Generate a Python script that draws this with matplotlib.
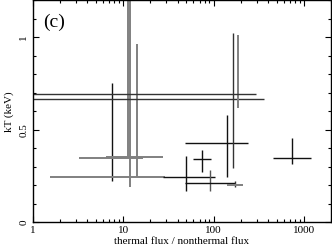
import matplotlib
matplotlib.use("Agg")
import matplotlib.pyplot as plt
from matplotlib.ticker import MultipleLocator, LogLocator, NullFormatter, FixedLocator, FixedFormatter

# flux ratio (thermal / nonthermal) with error range
ratio = [7.50, 11.36, 11.8, 14.2, 49.9, 74.9, 91.0, 141.3, 164.5, 185.3, 173.0, 743.0]
ratio_lo = [3.22, 11.36, 1.57, 6.45, 27.6, 59.6, 48.3, 48.3, 0.5, 0.5, 141.3, 454.0]
ratio_hi = [16.5, 11.36, 29.0, 27.8, 103.3, 93.4, 171.8, 240.6, 359.0, 292.5, 208.8, 1203.0]

# temperature kT (keV) with error range
kt = [0.349, 0.353, 0.242, 0.353, 0.243, 0.341, 0.210, 0.428, 0.665, 0.692, 0.201, 0.348]
kt_lo = [0.220, 0.353, 0.189, 0.241, 0.170, 0.268, 0.168, 0.246, 0.293, 0.620, 0.189, 0.315]
kt_hi = [0.755, 1.5, 1.5, 0.962, 0.355, 0.391, 0.283, 0.582, 1.022, 1.013, 0.223, 0.457]

# line shades (vertical / horizontal bar of each cross)
vcol = ['#111111', '#808080', '#808080', '#808080', '#111111', '#111111',
        '#555555', '#111111', '#333333', '#808080', '#333333', '#111111']
hcol = ['#808080', '#808080', '#808080', '#808080', '#111111', '#111111',
        '#111111', '#111111', '#333333', '#333333', '#808080', '#111111']

plt.rcParams['font.family'] = ['Liberation Serif', 'DejaVu Serif']

fig = plt.figure(figsize=(3.32, 2.48), dpi=100)
ax = fig.add_axes([0.098, 0.105, 0.9, 0.893])

for i in range(len(ratio)):
    gray = vcol[i] == '#808080'
    ax.vlines(ratio[i], kt_lo[i], kt_hi[i], color=vcol[i], lw=1.4 if gray else 1.0)
    gray = hcol[i] == '#808080'
    ax.hlines(kt[i], ratio_lo[i], ratio_hi[i], color=hcol[i], lw=1.4 if gray else 1.0)

ax.set_xscale('log')
ax.set_xlim(1, 2000)
ax.set_ylim(0, 1.2)

ax.xaxis.set_major_locator(FixedLocator([1, 10, 100, 1000]))
ax.xaxis.set_major_formatter(FixedFormatter(['1', '10', '100', '1000']))
ax.xaxis.set_minor_locator(LogLocator(base=10, subs=range(2, 10)))
ax.xaxis.set_minor_formatter(NullFormatter())
ax.yaxis.set_major_locator(FixedLocator([0, 0.5, 1]))
ax.yaxis.set_major_formatter(FixedFormatter(['0', '0.5', '1']))
ax.yaxis.set_minor_locator(MultipleLocator(0.1))

ax.tick_params(which='both', direction='in', top=True, right=True, labelsize=8, width=0.8)
ax.tick_params(which='major', length=4.5, pad=3)
ax.tick_params(which='minor', length=2.5)
for lab in ax.get_yticklabels():
    lab.set_rotation(90)
    lab.set_va('center')

for s in ax.spines.values():
    s.set_linewidth(1.0)

ax.set_xlabel('thermal flux / nonthermal flux', fontsize=8, labelpad=1)
ax.set_ylabel('kT (keV)', fontsize=8, labelpad=4)
ax.text(0.037, 0.94, '(c)', transform=ax.transAxes, fontsize=14, va='top', ha='left')

fig.savefig('out.png', dpi=100)
